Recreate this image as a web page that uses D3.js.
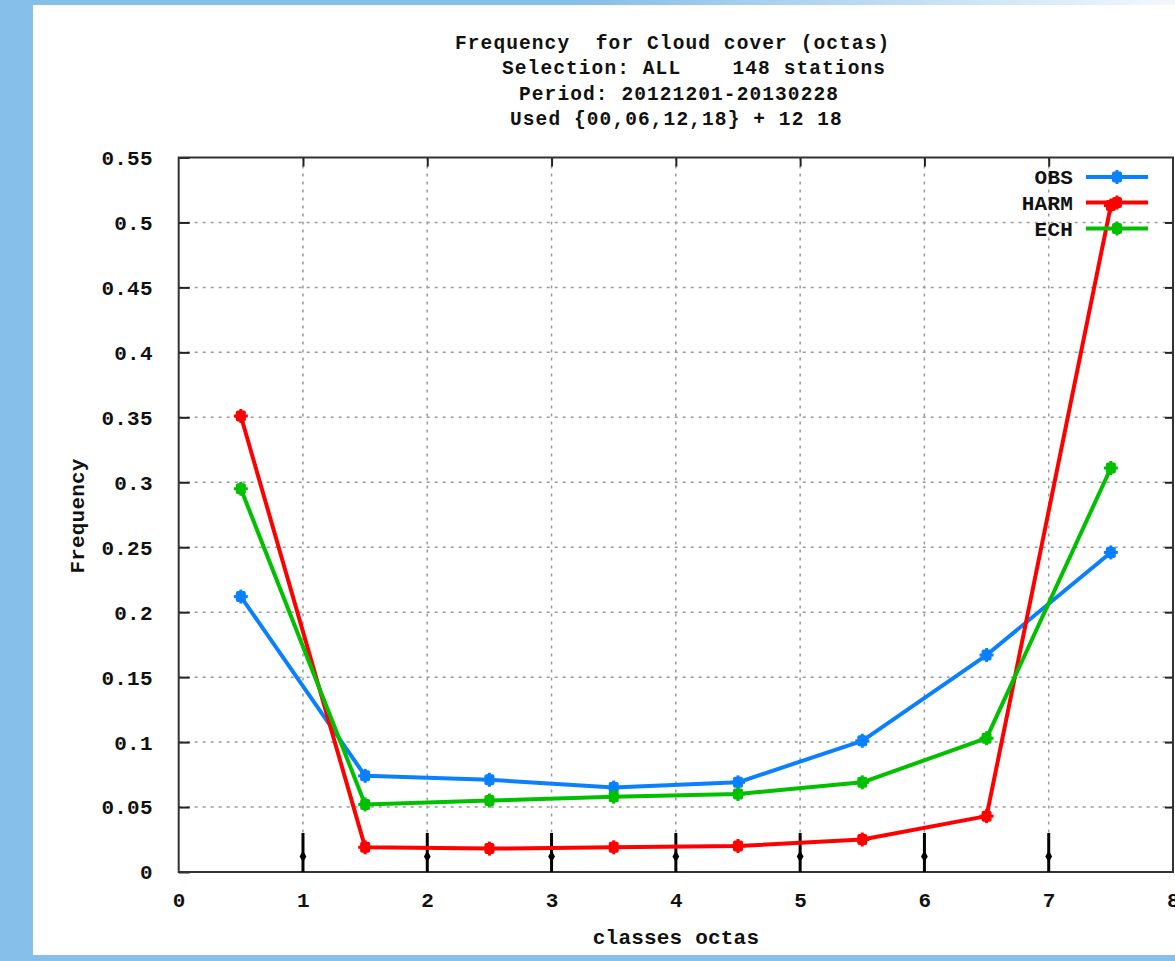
<!DOCTYPE html>
<html>
<head>
<meta charset="utf-8">
<script src="https://cdn.jsdelivr.net/npm/d3@7"></script>
<style>
  html, body { margin: 0; padding: 0; background: #86bfea; }
  svg { display: block; }
  text { font-family: "Liberation Mono", "DejaVu Sans Mono", monospace; font-weight: bold; fill: #111; }
</style>
</head>
<body>
<script>
// Cloud cover frequency by octa class, three sources
const classes = [0.5, 1.5, 2.5, 3.5, 4.5, 5.5, 6.5, 7.5];
const obsValues  = [0.212, 0.074, 0.071, 0.065, 0.069, 0.101, 0.167, 0.246];
const harmValues = [0.351, 0.019, 0.018, 0.019, 0.020, 0.025, 0.043, 0.513];
const echValues  = [0.295, 0.052, 0.055, 0.058, 0.060, 0.069, 0.103, 0.311];
const seriesNames = ["OBS", "HARM", "ECH"];
const seriesColors = ["#0a80ff", "#ff0000", "#00c000"];

// class boundaries with small impulse markers
const boundaries = [1, 2, 3, 4, 5, 6, 7];
const boundaryTop = 0.03;
const boundaryDot = 0.012;

const xTicks = [0, 1, 2, 3, 4, 5, 6, 7, 8];
const yTicks = [0, 0.05, 0.1, 0.15, 0.2, 0.25, 0.3, 0.35, 0.4, 0.45, 0.5, 0.55];
const yTickLabels = ["0", "0.05", "0.1", "0.15", "0.2", "0.25", "0.3", "0.35", "0.4", "0.45", "0.5", "0.55"];

const titleLines = [
  "Frequency  for Cloud cover (octas)",
  "Selection: ALL    148 stations",
  "Period: 20121201-20130228",
  "Used {00,06,12,18} + 12 18"
];
const titleStarts = [455, 502, 519, 510];

const W = 1175, H = 961;
const plot = { left: 178.7, right: 1173, top: 157.5, bottom: 872 };
const FONT = 21, SPACING = 0.2;

const svg = d3.select("body").append("svg").attr("width", W).attr("height", H);

// page frame: blue surround, white panel, top strip fading to white
const defs = svg.append("defs");
const grad = defs.append("linearGradient").attr("id", "topfade").attr("x1", "0").attr("x2", "1");
grad.append("stop").attr("offset", "0.5").attr("stop-color", "#86bfea");
grad.append("stop").attr("offset", "1").attr("stop-color", "#f4f8fc");
svg.append("rect").attr("width", W).attr("height", H).attr("fill", "#86bfea");
svg.append("rect").attr("x", 0).attr("y", 0).attr("width", W).attr("height", 5).attr("fill", "url(#topfade)");
svg.append("rect").attr("x", 33).attr("y", 5).attr("width", W - 33).attr("height", 950).attr("fill", "#fff");

const x = d3.scaleLinear().domain([0, 8]).range([plot.left, plot.right]);
const y = d3.scaleLinear().domain([0, 0.55]).range([plot.bottom, plot.top]);

// dotted grid
const grid = svg.append("g").attr("stroke", "#9a9a9a").attr("stroke-width", 1.5).attr("stroke-dasharray", "3,5");
grid.selectAll("line.v").data(xTicks.slice(1, -1)).join("line")
  .attr("x1", d => x(d)).attr("x2", d => x(d)).attr("y1", plot.top).attr("y2", plot.bottom);
grid.selectAll("line.h").data(yTicks.slice(1, -1)).join("line")
  .attr("x1", plot.left).attr("x2", plot.right).attr("y1", d => y(d)).attr("y2", d => y(d));

// axes with inward ticks on all four sides
const fmtY = d => yTickLabels[yTicks.indexOf(d)];
const axisStyle = g => {
  g.select(".domain").remove();
  g.selectAll(".tick line").attr("stroke", "#222").attr("stroke-width", 2);
  g.selectAll(".tick text").attr("font-size", FONT).attr("letter-spacing", SPACING).attr("fill", "#111")
    .attr("font-family", "Liberation Mono").attr("font-weight", "bold");
};
svg.append("g").attr("transform", `translate(${plot.left},0)`)
  .call(d3.axisLeft(y).tickValues(yTicks).tickFormat(fmtY).tickSizeInner(-11).tickPadding(26))
  .call(axisStyle)
  .call(g => g.selectAll(".tick text").attr("dy", "0.33em"));
svg.append("g").attr("transform", `translate(${plot.right},0)`)
  .call(d3.axisRight(y).tickValues(yTicks.slice(1, -1)).tickFormat("").tickSizeInner(-8))
  .call(axisStyle);
svg.append("g").attr("transform", `translate(0,${plot.bottom})`)
  .call(d3.axisBottom(x).tickValues(xTicks).tickFormat(d3.format("d")).tickSizeInner(0).tickPadding(20))
  .call(axisStyle);
svg.append("g").attr("transform", `translate(0,${plot.top})`)
  .call(d3.axisTop(x).tickValues(xTicks.slice(1, -1)).tickFormat("").tickSizeInner(-9))
  .call(axisStyle);

// plot border
svg.append("rect").attr("x", plot.left).attr("y", plot.top)
  .attr("width", plot.right - plot.left).attr("height", plot.bottom - plot.top)
  .attr("fill", "none").attr("stroke", "#333").attr("stroke-width", 2);

// boundary impulses
const imp = svg.append("g");
imp.selectAll("line").data(boundaries).join("line")
  .attr("x1", d => x(d)).attr("x2", d => x(d))
  .attr("y1", y(0)).attr("y2", y(boundaryTop))
  .attr("stroke", "#000").attr("stroke-width", 3);
imp.selectAll("path").data(boundaries).join("path")
  .attr("d", d3.symbol(d3.symbolDiamond, 40))
  .attr("transform", d => `translate(${x(d)},${y(boundaryDot)})`)
  .attr("fill", "#000");

// marker: filled square with a cross
function drawMarker(g, cx, cy, color) {
  g.append("rect").attr("x", cx - 5).attr("y", cy - 5.5).attr("width", 10).attr("height", 11)
    .attr("rx", 2).attr("fill", color);
  g.append("line").attr("x1", cx - 7).attr("x2", cx + 7).attr("y1", cy).attr("y2", cy)
    .attr("stroke", color).attr("stroke-width", 3);
  g.append("line").attr("x1", cx).attr("x2", cx).attr("y1", cy - 7).attr("y2", cy + 7)
    .attr("stroke", color).attr("stroke-width", 3);
}

const allSeries = [obsValues, harmValues, echValues];
const line = d3.line().x((d, i) => x(classes[i])).y(d => y(d));
allSeries.forEach((vals, k) => {
  const g = svg.append("g");
  g.append("path").datum(vals).attr("d", line)
    .attr("fill", "none").attr("stroke", seriesColors[k]).attr("stroke-width", 4)
    .attr("stroke-linejoin", "round");
  vals.forEach((v, i) => drawMarker(g, x(classes[i]), y(v), seriesColors[k]));
});

// legend
const legendRows = [177, 202.5, 228.5];
seriesNames.forEach((name, k) => {
  const g = svg.append("g");
  g.append("text").attr("x", 1073).attr("y", legendRows[k]).attr("dy", "0.34em")
    .attr("text-anchor", "end").attr("font-size", FONT).attr("letter-spacing", SPACING).text(name);
  g.append("line").attr("x1", 1086).attr("x2", 1148).attr("y1", legendRows[k]).attr("y2", legendRows[k])
    .attr("stroke", seriesColors[k]).attr("stroke-width", 4);
  drawMarker(g, 1117, legendRows[k], seriesColors[k]);
});

// title block
const titleBase = [48.5, 74, 99.5, 125];
titleLines.forEach((t, i) => {
  svg.append("text").attr("x", titleStarts[i]).attr("y", titleBase[i])
    .attr("font-size", 19.5).attr("letter-spacing", 1.1)
    .attr("xml:space", "preserve").style("white-space", "pre").text(t);
});

// axis titles
svg.append("text").attr("x", 676).attr("y", 944).attr("text-anchor", "middle")
  .attr("font-size", FONT).attr("letter-spacing", SPACING).text("classes octas");
svg.append("text").attr("transform", "translate(84,516) rotate(-90)").attr("text-anchor", "middle")
  .attr("font-size", FONT).attr("letter-spacing", SPACING).text("Frequency");
</script>
</body>
</html>
